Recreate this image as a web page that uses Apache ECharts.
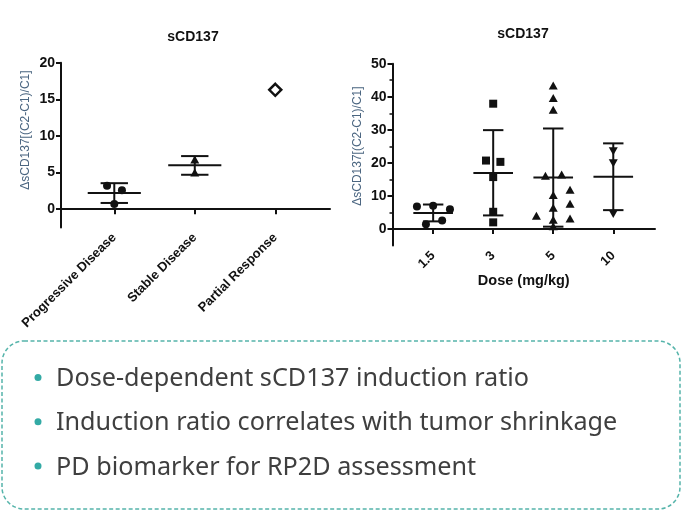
<!DOCTYPE html>
<html>
<head>
<meta charset="utf-8">
<script src="https://cdn.jsdelivr.net/npm/echarts@6/dist/echarts.min.js"></script>
<style>
  html, body { margin: 0; padding: 0; background: #fff; }
  #chart { width: 682px; height: 512px; }
</style>
</head>
<body>
<div id="chart"></div>
<script>
// ---- Data ----
const chartTitle = 'sCD137';
const yAxisTitle = 'ΔsCD137[(C2-C1)/C1]';

// Left panel: response categories
const responseCategories = ['Progressive Disease', 'Stable Disease', 'Partial Response'];
const progressiveValues = [3.2, 2.6, 0.7];
const progressiveJitter = [-0.09, 0.095, 0];
const stableValues = [6.8, 5.0];
const stableJitter = [0, 0];
const partialValues = [16.3];
const responseMean = [2.2, 6.0];
const responseLower = [0.85, 4.7];
const responseUpper = [3.55, 7.25];
const responseTicks = [0, 5, 10, 15, 20];

// Right panel: dose groups
const doseLabels = ['1.5', '3', '5', '10'];
const doseAxisTitle = 'Dose (mg/kg)';
const dose15Values = [6.8, 7.0, 6.0, 1.4, 2.6];
const dose15Jitter = [-0.27, 0, 0.28, -0.12, 0.15];
const dose3Values = [37.9, 20.7, 20.3, 15.7, 5.2, 2.0];
const dose3Jitter = [0, -0.12, 0.12, 0, 0, 0];
const dose5Values = [43.4, 39.6, 36.1, 16.1, 16.5, 11.9, 10.3, 7.6, 6.4, 4.0, 2.8, 3.2, 0.8];
const dose5Jitter = [0, 0, 0, -0.13, 0.14, 0.28, 0, 0.28, 0, -0.28, 0, 0.28, 0];
const dose10Values = [23.5, 19.9, 4.5];
const dose10Jitter = [0, 0, 0];
const doseMean = [4.8, 16.9, 15.6, 15.8];
const doseLower = [2.3, 4.1, 0.7, 5.7];
const doseUpper = [7.4, 29.9, 30.4, 25.9];
const doseTicks = [0, 10, 20, 30, 40, 50];
const doseMinorTicks = [5, 15, 25, 35, 45];

// Summary bullets
const bulletLines = [
  'Dose-dependent sCD137 induction ratio',
  'Induction ratio correlates with tumor shrinkage',
  'PD biomarker for RP2D assessment'
];

// ---- Styling ----
const INK = '#111';
const FONT = 'Liberation Sans';
const MEAN_HALF = 0.33;
const CAP_HALF = 0.17;

function pts(values, jitter, cat) {
  return values.map((v, i) => [cat + jitter[i], v]);
}
function errRows(mean, lo, hi) {
  return mean.map((m, i) => [i + 1, m, lo[i], hi[i]]);
}
function errorBarRender(params, api) {
  const x = api.value(0), m = api.value(1), lo = api.value(2), hi = api.value(3);
  const a = api.coord([x - MEAN_HALF, m]), b = api.coord([x + MEAN_HALF, m]);
  const top = api.coord([x, hi]), bot = api.coord([x, lo]);
  const c1 = api.coord([x - CAP_HALF, hi]), c2 = api.coord([x + CAP_HALF, hi]);
  const d1 = api.coord([x - CAP_HALF, lo]), d2 = api.coord([x + CAP_HALF, lo]);
  const st = { stroke: INK, lineWidth: 2, fill: null };
  const ln = (p, q) => ({ type: 'line', shape: { x1: p[0], y1: p[1], x2: q[0], y2: q[1] }, style: st });
  return { type: 'group', children: [ln(a, b), ln(top, bot), ln(c1, c2), ln(d1, d2)] };
}

const axisLineStyle = { show: true, lineStyle: { color: INK, width: 2 } };
const tickLabelStyle = { color: INK, fontWeight: 'bold', fontFamily: FONT };

const option = {
  animation: false,
  backgroundColor: '#fff',
  textStyle: { fontFamily: FONT },
  grid: [
    { left: 61, right: 352, top: 62.7, bottom: 284.5, containLabel: false },
    { left: 392.5, right: 27, top: 63.7, bottom: 266.5, containLabel: false }
  ],
  xAxis: [
    {
      type: 'value', gridIndex: 0, min: 0.338, max: 3.68,
      axisLine: axisLineStyle,
      splitLine: { show: false },
      axisTick: { show: true, customValues: [1, 2, 3], length: 5, lineStyle: { color: INK, width: 2 } },
      axisLabel: Object.assign({}, tickLabelStyle, {
        customValues: [1, 2, 3], rotate: 45, fontSize: 13, margin: 8,
        formatter: v => responseCategories[Math.round(v) - 1]
      })
    },
    {
      type: 'value', gridIndex: 1, min: 0.323, max: 4.695,
      axisLine: axisLineStyle,
      splitLine: { show: false },
      axisTick: { show: true, customValues: [1, 2, 3, 4], length: 5, lineStyle: { color: INK, width: 2 } },
      axisLabel: Object.assign({}, tickLabelStyle, {
        customValues: [1, 2, 3, 4], rotate: 45, fontSize: 13, margin: 8,
        formatter: v => doseLabels[Math.round(v) - 1]
      }),
      name: doseAxisTitle, nameLocation: 'middle', nameGap: 27,
      nameTextStyle: { color: INK, fontWeight: 'bold', fontSize: 14.5, fontFamily: FONT }
    }
  ],
  yAxis: [
    {
      type: 'value', gridIndex: 0, min: -2.5, max: 20, position: 'left', offset: 0,
      axisLine: axisLineStyle,
      splitLine: { show: false },
      axisTick: { show: true, customValues: responseTicks, length: 5, lineStyle: { color: INK, width: 2 } },
      axisLabel: Object.assign({}, tickLabelStyle, { customValues: responseTicks, fontSize: 14, margin: 6 }),
      name: yAxisTitle, nameLocation: 'middle', nameGap: 29,
      nameTextStyle: { color: '#4a6580', fontSize: 12, fontFamily: FONT, padding: [0, 0, 0, 30] }
    },
    {
      type: 'value', gridIndex: 1, min: -5, max: 50, position: 'left', offset: 0,
      axisLine: axisLineStyle,
      splitLine: { show: false },
      axisTick: { show: true, customValues: doseTicks, length: 5, lineStyle: { color: INK, width: 2 } },
      axisLabel: Object.assign({}, tickLabelStyle, { customValues: doseTicks, fontSize: 14, margin: 6 }),
      name: yAxisTitle, nameLocation: 'middle', nameGap: 29,
      nameTextStyle: { color: '#4a6580', fontSize: 12, fontFamily: FONT, padding: [0, 0, 0, 17] }
    },
    {
      type: 'value', gridIndex: 1, min: -5, max: 50, position: 'left', offset: 0,
      axisLine: { show: false },
      splitLine: { show: false },
      axisTick: { show: true, customValues: doseMinorTicks, length: 3, lineStyle: { color: INK, width: 1.5 } },
      axisLabel: { show: false }
    }
  ],
  series: [
    { type: 'scatter', xAxisIndex: 0, yAxisIndex: 0, symbol: 'circle', symbolSize: 8,
      itemStyle: { color: INK, opacity: 1 }, data: pts(progressiveValues, progressiveJitter, 1) },
    { type: 'scatter', xAxisIndex: 0, yAxisIndex: 0, symbol: 'triangle', symbolSize: [9, 8],
      itemStyle: { color: INK, opacity: 1 }, data: pts(stableValues, stableJitter, 2) },
    { type: 'scatter', xAxisIndex: 0, yAxisIndex: 0, symbol: 'diamond', symbolSize: 12,
      itemStyle: { color: '#fff', borderColor: INK, borderWidth: 2.5, opacity: 1 },
      data: partialValues.map(v => [3, v]) },
    { type: 'custom', xAxisIndex: 0, yAxisIndex: 0, renderItem: errorBarRender,
      encode: { x: 0, y: [1, 2, 3] }, data: errRows(responseMean, responseLower, responseUpper), z: 3 },

    { type: 'scatter', xAxisIndex: 1, yAxisIndex: 1, symbol: 'circle', symbolSize: 8,
      itemStyle: { color: INK, opacity: 1 }, data: pts(dose15Values, dose15Jitter, 1) },
    { type: 'scatter', xAxisIndex: 1, yAxisIndex: 1, symbol: 'rect', symbolSize: 8,
      itemStyle: { color: INK, opacity: 1 }, data: pts(dose3Values, dose3Jitter, 2) },
    { type: 'scatter', xAxisIndex: 1, yAxisIndex: 1, symbol: 'triangle', symbolSize: [9, 8],
      itemStyle: { color: INK, opacity: 1 }, data: pts(dose5Values, dose5Jitter, 3) },
    { type: 'scatter', xAxisIndex: 1, yAxisIndex: 1, symbol: 'triangle', symbolRotate: 180, symbolSize: [9, 8],
      itemStyle: { color: INK, opacity: 1 }, data: pts(dose10Values, dose10Jitter, 4) },
    { type: 'custom', xAxisIndex: 1, yAxisIndex: 1, renderItem: errorBarRender,
      encode: { x: 0, y: [1, 2, 3] }, data: errRows(doseMean, doseLower, doseUpper), z: 3 }
  ],
  graphic: [
    { type: 'text', x: 193, y: 37, style: { text: chartTitle, fill: INK, fontFamily: FONT, fontWeight: 'bold', fontSize: 14, align: 'center', verticalAlign: 'middle' } },
    { type: 'text', x: 523, y: 34, style: { text: chartTitle, fill: INK, fontFamily: FONT, fontWeight: 'bold', fontSize: 14, align: 'center', verticalAlign: 'middle' } },
    { type: 'rect', shape: { x: 2, y: 341, width: 678, height: 168, r: 22 },
      style: { fill: null, stroke: '#55b4aa', lineWidth: 1.5, lineDash: [4, 2.5] } }
  ].concat(bulletLines.flatMap((t, i) => [
    { type: 'circle', shape: { cx: 38, cy: 377.5 + i * 44.2, r: 3.5 }, style: { fill: '#33aaa5' } },
    { type: 'text', x: 56, y: 379 + i * 44.2, style: { text: t, fill: '#3f3f3f', fontFamily: 'Noto Sans', fontSize: 25.2, align: 'left', verticalAlign: 'middle' } }
  ]))
};

const chart = echarts.init(document.getElementById('chart'), null, { renderer: 'canvas' });
chart.setOption(option);
</script>
</body>
</html>
